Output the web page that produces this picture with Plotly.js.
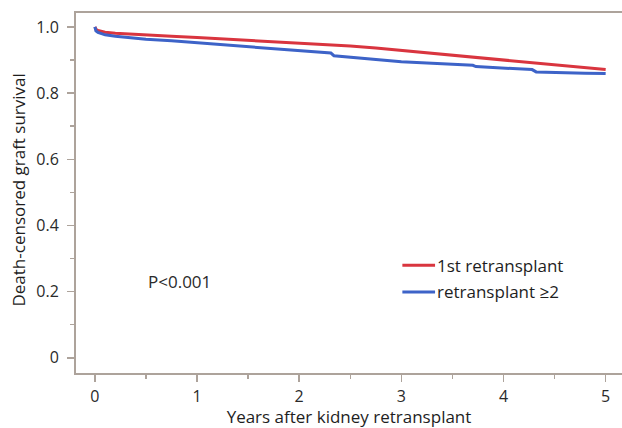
<!DOCTYPE html>
<html>
<head>
<meta charset="utf-8">
<script src="https://cdn.plot.ly/plotly-3.0.1.min.js"></script>
<style>html,body{margin:0;padding:0;background:#fff}#chart{width:622px;height:428px}</style>
</head>
<body>
<div id="chart"></div>
<script>
// Kaplan-Meier style death-censored graft survival
var redYears = [0, 0.01, 0.03, 0.06, 0.1, 0.2, 0.35, 0.5, 0.75, 1.0, 1.25, 1.5, 1.75, 2.0, 2.25, 2.5, 2.75, 3.0, 3.25, 3.5, 3.75, 4.0, 4.25, 4.5, 4.75, 5.0];
var redSurv  = [1.0, 0.993, 0.989, 0.986, 0.984, 0.981, 0.978, 0.976, 0.972, 0.968, 0.964, 0.960, 0.956, 0.952, 0.947, 0.942, 0.936, 0.929, 0.922, 0.915, 0.908, 0.900, 0.892, 0.885, 0.878, 0.871];
var blueYears = [0, 0.01, 0.03, 0.06, 0.1, 0.2, 0.35, 0.5, 0.75, 1.0, 1.25, 1.5, 1.75, 2.0, 2.15, 2.31, 2.34, 2.5, 2.75, 3.0, 3.25, 3.5, 3.7, 3.73, 4.0, 4.28, 4.32, 4.6, 4.8, 5.0];
var blueSurv  = [1.0, 0.988, 0.983, 0.979, 0.976, 0.972, 0.967, 0.963, 0.958, 0.952, 0.947, 0.942, 0.936, 0.930, 0.926, 0.921, 0.913, 0.909, 0.903, 0.895, 0.891, 0.887, 0.884, 0.880, 0.876, 0.871, 0.864, 0.861, 0.860, 0.859];
var seriesNames = ["1st retransplant", "retransplant \u22652"];
var xTickVals = [0, 1, 2, 3, 4, 5];
var yTickVals = [0, 0.2, 0.4, 0.6, 0.8, 1.0];
var yTickText = ["0", "0.2", "0.4", "0.6", "0.8", "1.0"];
var pValueText = "P<0.001";

var axisColor = "#ada39b";
var fontFam = "'Open Sans', 'Noto Sans', sans-serif";
var redColor = "#d9353f", blueColor = "#3d63c8";

var traces = [
  {x: redYears, y: redSurv, name: seriesNames[0], mode: "lines",
   line: {color: redColor, width: 3}, showlegend: false},
  {x: blueYears, y: blueSurv, name: seriesNames[1], mode: "lines",
   line: {color: blueColor, width: 3}, showlegend: false}
];

var layout = {
  width: 622, height: 428,
  margin: {l: 76, r: 0, t: 13, b: 55, pad: 0},
  paper_bgcolor: "#fff", plot_bgcolor: "#fff",
  font: {family: fontFam, color: "#2a2a2a", size: 17},
  xaxis: {
    range: [-0.185, 5.16], tickvals: xTickVals, ticktext: xTickVals.map(String),
    showgrid: false, zeroline: false,
    showline: true, linecolor: axisColor, linewidth: 2, mirror: true,
    ticks: "outside", ticklen: 7, tickwidth: 1.5, tickcolor: axisColor,
    minor: {dtick: 0.5, tick0: 0, ticks: "outside", ticklen: 4, tickcolor: axisColor, tickwidth: 1.5},
    tickfont: {size: 16, color: "#2a2a2a"}, ticklabelstandoff: 1,
    title: {text: "Years after kidney retransplant", font: {size: 17, color: "#1e1e1e"}, standoff: 8}
  },
  yaxis: {
    range: [-0.046, 1.042], tickvals: yTickVals, ticktext: yTickText,
    showgrid: false, zeroline: false,
    showline: true, linecolor: axisColor, linewidth: 2,
    ticks: "outside", ticklen: 7, tickwidth: 1.5, tickcolor: axisColor,
    minor: {dtick: 0.1, tick0: 0, ticks: "outside", ticklen: 4, tickcolor: axisColor, tickwidth: 1.5},
    tickfont: {size: 16, color: "#2a2a2a"}, ticklabelstandoff: 5,
    title: {text: ""}
  },
  annotations: [
    {xref: "paper", yref: "paper", x: -0.1055, y: 0.508, text: "Death-censored graft survival",
     textangle: -90, showarrow: false, font: {size: 17, color: "#1e1e1e"}, xanchor: "center", yanchor: "middle"},
    {xref: "x", yref: "y", x: 0.5, y: 0.23, text: pValueText, showarrow: false,
     xanchor: "left", yanchor: "middle", font: {size: 17, color: "#2a2a2a"}},
    {xref: "x", yref: "y", x: 3.33, y: 0.28, text: seriesNames[0], showarrow: false,
     xanchor: "left", yanchor: "middle", font: {size: 17, color: "#1e1e1e"}},
    {xref: "x", yref: "y", x: 3.33, y: 0.199, text: seriesNames[1], showarrow: false,
     xanchor: "left", yanchor: "middle", font: {size: 17, color: "#1e1e1e"}}
  ],
  shapes: [
    {type: "line", xref: "x", yref: "y", x0: 3.01, x1: 3.33, y0: 0.28, y1: 0.28, line: {color: redColor, width: 3}},
    {type: "line", xref: "x", yref: "y", x0: 3.01, x1: 3.33, y0: 0.199, y1: 0.199, line: {color: blueColor, width: 3}}
  ]
};

Plotly.newPlot("chart", traces, layout, {displayModeBar: false, staticPlot: true});
</script>
</body>
</html>
